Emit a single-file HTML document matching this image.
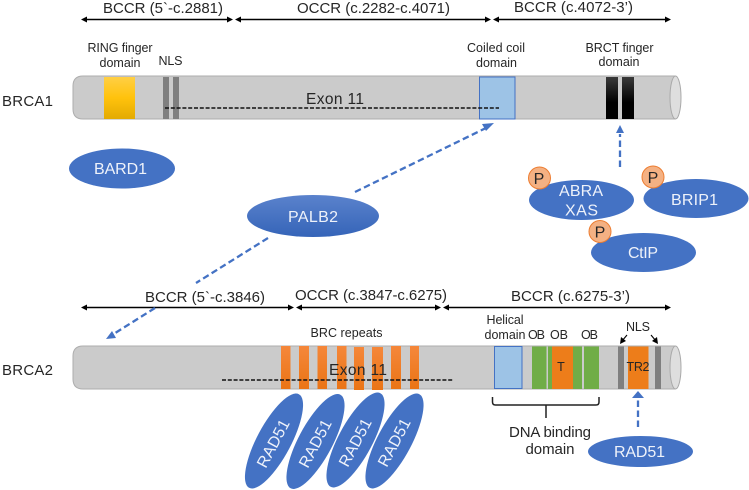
<!DOCTYPE html>
<html>
<head>
<meta charset="utf-8">
<style>
html,body{margin:0;padding:0;background:#fff;width:749px;height:490px;overflow:hidden}
svg{display:block;filter:blur(.3px)}
text{font-family:"Liberation Sans",sans-serif;fill:#262626}
.w{fill:#eef2fa;text-anchor:middle;font-size:16px}
.s{font-size:12.5px;text-anchor:middle}
.h{font-size:15px}
</style>
</head>
<body>
<svg width="749" height="490" viewBox="0 0 749 490" xmlns="http://www.w3.org/2000/svg">
<defs>
<linearGradient id="y" x1="0" y1="0" x2="0" y2="1"><stop offset="0" stop-color="#ffcf45"/><stop offset=".5" stop-color="#ffc20c"/><stop offset="1" stop-color="#e3aa02"/></linearGradient>
<linearGradient id="k" x1="0" y1="0" x2="0" y2="1"><stop offset="0" stop-color="#3a3a3a"/><stop offset=".6" stop-color="#000"/><stop offset="1" stop-color="#000"/></linearGradient>
<linearGradient id="o" x1="0" y1="0" x2="0" y2="1"><stop offset="0" stop-color="#f5873a"/><stop offset="1" stop-color="#ea7415"/></linearGradient>
<linearGradient id="p" x1="0" y1="0" x2="0" y2="1"><stop offset="0" stop-color="#5a82cc"/><stop offset="1" stop-color="#3564b8"/></linearGradient>
</defs>

<!-- top range arrows -->
<g stroke="#000" stroke-width="1.5" fill="#000">
<line x1="84" y1="19.5" x2="231" y2="19.5"/><line x1="238" y1="19.5" x2="489" y2="19.5"/><line x1="495" y1="19.5" x2="669" y2="19.5"/>
<line x1="84" y1="307.5" x2="292" y2="307.5"/><line x1="298" y1="307.5" x2="439" y2="307.5"/><line x1="446" y1="307.5" x2="668" y2="307.5"/>
</g>
<g fill="#000">
<polygon points="81,19.5 87,16.5 87,22.5"/><polygon points="233,19.5 227,16.5 227,22.5"/>
<polygon points="235,19.5 241,16.5 241,22.5"/><polygon points="491,19.5 485,16.5 485,22.5"/>
<polygon points="493,19.5 499,16.5 499,22.5"/><polygon points="671,19.5 665,16.5 665,22.5"/>
<polygon points="81,307.5 87,304.5 87,310.5"/><polygon points="294,307.5 288,304.5 288,310.5"/>
<polygon points="296,307.5 302,304.5 302,310.5"/><polygon points="441,307.5 435,304.5 435,310.5"/>
<polygon points="443,307.5 449,304.5 449,310.5"/><polygon points="671,307.5 665,304.5 665,310.5"/>
</g>
<text class="h" x="103" y="13" textLength="120">BCCR (5`-c.2881)</text>
<text class="h" x="297" y="13" textLength="153">OCCR (c.2282-c.4071)</text>
<text class="h" x="514" y="12" textLength="119">BCCR (c.4072-3’)</text>
<text class="h" x="145" y="302" textLength="120">BCCR (5`-c.3846)</text>
<text class="h" x="295" y="300" textLength="152">OCCR (c.3847-c.6275)</text>
<text class="h" x="511" y="301" textLength="119">BCCR (c.6275-3’)</text>

<!-- BRCA1 cylinder -->
<path d="M83,76 H675 V119 H83 Q73,119 73,109 V86 Q73,76 83,76 Z" fill="#cbcbcb" stroke="#aeaeae"/>
<ellipse cx="675.500" cy="97.500" rx="5.500" ry="21.500" fill="#dedede" stroke="#a9a9a9"/>
<rect x="104" y="77" width="31" height="42" fill="url(#y)"/>
<rect x="163" y="77" width="6" height="42" fill="#7f7f7f"/>
<rect x="173" y="77" width="6" height="42" fill="#7f7f7f"/>
<rect x="479.500" y="77" width="35.500" height="42" fill="#9dc3e6" stroke="#4472c4"/>
<rect x="606" y="77" width="12" height="42" fill="url(#k)"/>
<rect x="622" y="77" width="12" height="42" fill="url(#k)"/>
<line x1="165" y1="108" x2="499" y2="108" stroke="#111" stroke-width="1.500" stroke-dasharray="4 1.800"/>

<text x="2" y="106" font-size="15" textLength="51">BRCA1</text>
<text x="306" y="104" font-size="15.500" textLength="58">Exon 11</text>
<text class="s" x="120" y="52" textLength="65">RING finger</text>
<text class="s" x="120" y="67" textLength="41">domain</text>
<text class="s" x="170.500" y="65" textLength="24">NLS</text>
<text class="s" x="496" y="52" textLength="58">Coiled coil</text>
<text class="s" x="496.500" y="67" textLength="41">domain</text>
<text class="s" x="619.500" y="52" textLength="68">BRCT finger</text>
<text class="s" x="619" y="66" textLength="41">domain</text>

<!-- BRCA2 cylinder -->
<path d="M83,346 H675 V389 H83 Q73,389 73,379 V356 Q73,346 83,346 Z" fill="#cbcbcb" stroke="#aeaeae"/>
<ellipse cx="675.500" cy="367.500" rx="5.500" ry="21.500" fill="#dedede" stroke="#a9a9a9"/>
<g fill="url(#o)">
<rect x="281" y="346" width="9.500" height="43"/><rect x="299" y="346" width="10" height="43"/>
<rect x="317.500" y="346" width="9.500" height="43"/><rect x="337" y="346" width="9.500" height="43"/>
<rect x="354" y="347" width="10" height="43"/><rect x="372" y="347" width="11" height="43"/>
<rect x="391" y="346" width="10" height="43"/><rect x="410" y="346" width="9" height="43"/>
</g>
<rect x="494.500" y="346.500" width="27.500" height="42" fill="#9dc3e6" stroke="#4472c4"/>
<g fill="#70ad47">
<rect x="532" y="346.500" width="14.500" height="42.500"/><rect x="548" y="346.500" width="6" height="42.500"/>
<rect x="572" y="346.500" width="10" height="42.500"/><rect x="584" y="346.500" width="15" height="42.500"/>
</g>
<rect x="552" y="346.500" width="21" height="42.500" fill="#ed7d1a"/>
<rect x="628" y="346.500" width="20.500" height="42.500" fill="#ed7d1a"/>
<rect x="618" y="346.500" width="6" height="42.500" fill="#7f7f7f"/>
<rect x="655" y="346.500" width="6" height="42.500" fill="#7f7f7f"/>
<line x1="222" y1="380" x2="453" y2="380" stroke="#111" stroke-width="1.500" stroke-dasharray="4 1.800"/>

<text x="2" y="375" font-size="15" textLength="51">BRCA2</text>
<text x="329" y="375" font-size="15.500" textLength="58">Exon 11</text>
<text class="s" x="346.500" y="337" textLength="72">BRC repeats</text>
<text class="s" x="505" y="324" textLength="37">Helical</text>
<text class="s" x="505" y="339" textLength="41">domain</text>
<text class="s" x="536.500" y="339" textLength="17">OB</text>
<text class="s" x="559" y="339" textLength="18">OB</text>
<text class="s" x="589.500" y="339" textLength="17">OB</text>
<text class="s" x="638" y="331" textLength="24">NLS</text>
<text class="s" x="561" y="371">T</text>
<text class="s" x="638" y="371" textLength="23">TR2</text>

<!-- NLS arrows -->
<g stroke="#000" stroke-width="1.100" fill="none">
<line x1="627" y1="335" x2="622" y2="341"/><line x1="651" y1="335" x2="656" y2="341"/>
</g>
<polygon points="620,344 621,337 626,341" fill="#000"/>
<polygon points="658,344 652,341 657,337" fill="#000"/>

<!-- bracket -->
<path d="M492.500,397 V402 Q492.500,405 495.500,405 H596 Q599,405 599,402 V397 M546,405 V418" fill="none" stroke="#222" stroke-width="1.500"/>
<text x="550" y="437" font-size="15" text-anchor="middle" textLength="82">DNA binding</text>
<text x="550" y="454" font-size="15" text-anchor="middle" textLength="49">domain</text>

<!-- dashed blue arrows -->
<g stroke="#4472c4" stroke-width="2.300" stroke-dasharray="6.500 3.500" fill="none">
<line x1="355" y1="192" x2="488" y2="127"/>
<line x1="268" y1="238" x2="196" y2="283"/>
<line x1="155" y1="308" x2="112" y2="335"/>
<line x1="620" y1="167" x2="620" y2="134"/>
<line x1="638" y1="427" x2="638" y2="398"/>
</g>
<g fill="#4472c4">
<polygon points="494,123 486,131 482,124"/>
<polygon points="106,339 112,331 116,338"/>
<polygon points="620,125 624,133 616,133"/>
<polygon points="638,391 644,398 632,398"/>
</g>

<!-- ellipses -->
<g fill="#4472c4">
<ellipse cx="122" cy="168.500" rx="53" ry="20"/>
<ellipse cx="581.500" cy="200" rx="52.500" ry="20"/>
<ellipse cx="696" cy="198.500" rx="52.500" ry="19.500"/>
<ellipse cx="643.500" cy="252.500" rx="52.500" ry="19.500"/>
<ellipse cx="640.500" cy="451.500" rx="52.500" ry="15.500"/>
<ellipse cx="274" cy="441" rx="53" ry="17" transform="rotate(-62 274 441)"/>
<ellipse cx="315.500" cy="441.500" rx="53" ry="17" transform="rotate(-62 315.500 441.500)"/>
<ellipse cx="355.500" cy="440" rx="53" ry="17" transform="rotate(-62 355.500 440)"/>
<ellipse cx="394.500" cy="441" rx="53" ry="17" transform="rotate(-62 394.500 441)"/>
</g>
<ellipse cx="313" cy="216" rx="66" ry="21" fill="url(#p)"/>

<g fill="#f4b183" stroke="#ed7d31" stroke-width="1">
<circle cx="539.500" cy="178" r="11"/><circle cx="653" cy="177" r="11"/><circle cx="600" cy="231.500" r="11"/>
</g>
<g font-size="16" text-anchor="middle">
<text x="539" y="184">P</text><text x="653" y="183">P</text><text x="600" y="237.500">P</text>
</g>

<text class="w" x="120.500" y="174" textLength="53">BARD1</text>
<text class="w" x="313" y="222" textLength="50">PALB2</text>
<text class="w" x="581" y="196" textLength="44">ABRA</text>
<text class="w" x="581.500" y="215.500" textLength="33">XAS</text>
<text class="w" x="694.500" y="205" textLength="47">BRIP1</text>
<text class="w" x="643" y="258" textLength="30">CtIP</text>
<text class="w" x="639.500" y="457" textLength="51">RAD51</text>
<text class="w" transform="translate(278 446) rotate(-62)" textLength="52">RAD51</text>
<text class="w" transform="translate(320 446) rotate(-62)" textLength="52">RAD51</text>
<text class="w" transform="translate(360 445) rotate(-62)" textLength="52">RAD51</text>
<text class="w" transform="translate(399 445) rotate(-62)" textLength="52">RAD51</text>
</svg>
</body>
</html>
